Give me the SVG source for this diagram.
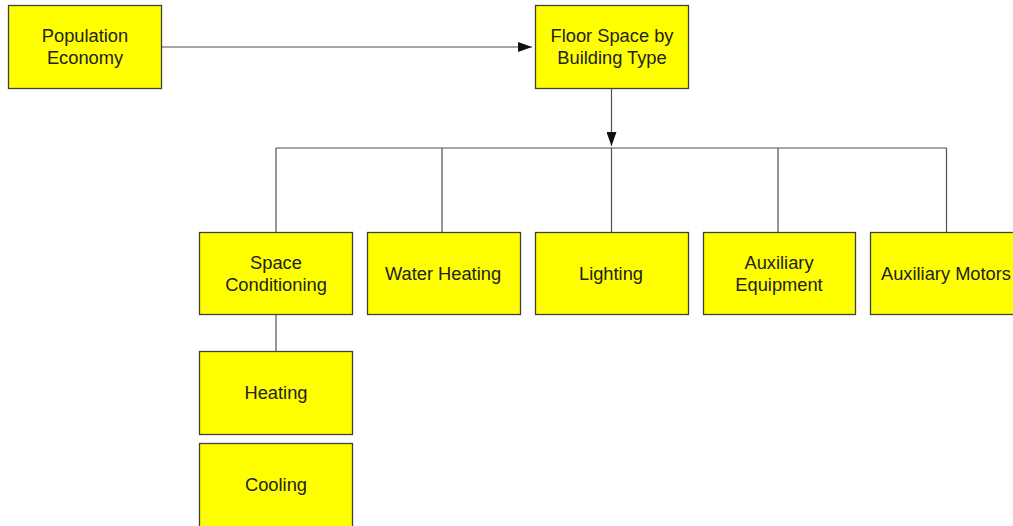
<svg xmlns="http://www.w3.org/2000/svg" width="1013" height="526" viewBox="0 0 1013 526">
<defs>
<style>
.box{fill:#ffff00;stroke:#404040;stroke-width:1.3}
.lbl{font-family:"Liberation Sans",Arial,sans-serif;font-size:18.3px;fill:#222;text-anchor:middle;dominant-baseline:central}
.ln{fill:none;stroke:#505050;stroke-width:1.2}
</style>
<marker id="ah2" viewBox="0 0 14 10" refX="14" refY="5" markerWidth="14" markerHeight="10" markerUnits="userSpaceOnUse" orient="auto">
<path d="M0,0 L14,5 L0,10 z" fill="#111"/>
</marker>
</defs>
<rect width="1013" height="526" fill="#fff"/>
<g id="connectors">
<path class="ln" d="M162,47 H532" marker-end="url(#ah2)"/>
<path class="ln" d="M611.5,89 V146" marker-end="url(#ah2)"/>
<path class="ln" d="M276,148 H946.5"/>
<path class="ln" d="M276,148 V232"/>
<path class="ln" d="M442,148 V232"/>
<path class="ln" d="M611.5,148 V232"/>
<path class="ln" d="M778,148 V232"/>
<path class="ln" d="M946.5,148 V232"/>
<path class="ln" d="M276,315 V351"/>
</g>
<g id="population">
<rect class="box" x="8.5" y="5.5" width="153" height="83"/>
<text class="lbl" x="85" y="35">Population</text>
<text class="lbl" x="85" y="57">Economy</text>
</g>
<g id="floorspace">
<rect class="box" x="535.5" y="5.5" width="153" height="83"/>
<text class="lbl" x="612" y="35">Floor Space by</text>
<text class="lbl" x="612" y="57">Building Type</text>
</g>
<g id="spacecond">
<rect class="box" x="199.5" y="232.5" width="153" height="82"/>
<text class="lbl" x="276" y="262">Space</text>
<text class="lbl" x="276" y="284">Conditioning</text>
</g>
<g id="waterheating">
<rect class="box" x="367.5" y="232.5" width="153" height="82"/>
<text class="lbl" x="443" y="273">Water Heating</text>
</g>
<g id="lighting">
<rect class="box" x="535.5" y="232.5" width="153" height="82"/>
<text class="lbl" x="611" y="273">Lighting</text>
</g>
<g id="auxequip">
<rect class="box" x="703.5" y="232.5" width="152" height="82"/>
<text class="lbl" x="779" y="262">Auxiliary</text>
<text class="lbl" x="779" y="284">Equipment</text>
</g>
<g id="auxmotors">
<rect class="box" x="870.5" y="232.5" width="153" height="82"/>
<text class="lbl" x="946" y="273">Auxiliary Motors</text>
</g>
<g id="heating">
<rect class="box" x="199.5" y="351.5" width="153" height="83"/>
<text class="lbl" x="276" y="392">Heating</text>
</g>
<g id="cooling">
<rect class="box" x="199.5" y="443.5" width="153" height="84"/>
<text class="lbl" x="276" y="484">Cooling</text>
</g>
</svg>
